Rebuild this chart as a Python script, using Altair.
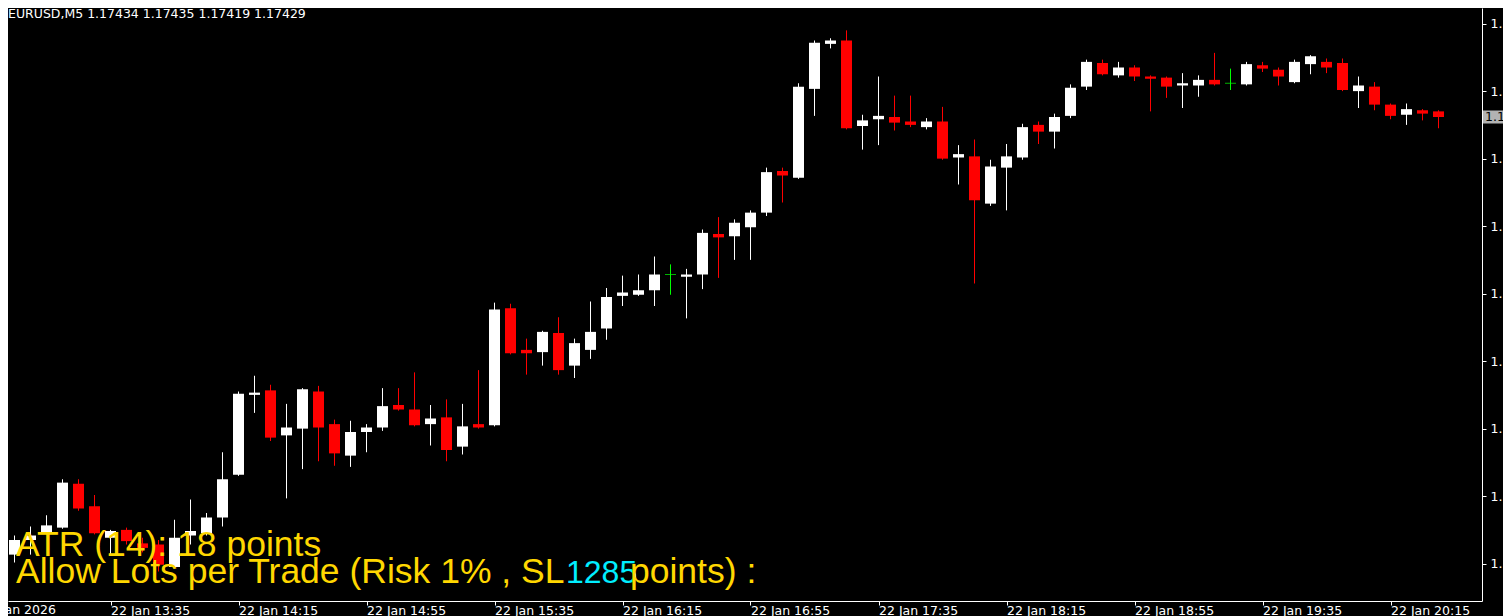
import altair as alt
import pandas as pd
import numpy as np

# ---- data (EURUSD, M5 candles, index 0 = 22 Jan 13:05) ----
candle_index = list(range(-1, 90))
open_prices = [1.17042, 1.17040, 1.17053, 1.17060, 1.17064, 1.17103, 1.17083, 1.17055, 1.17062, 1.17050,
               1.17049, 1.17029, 1.17057, 1.17059, 1.17073, 1.17111, 1.17182, 1.17186, 1.17146, 1.17152,
               1.17185, 1.17156, 1.17128, 1.17149, 1.17153, 1.17173, 1.17169, 1.17156, 1.17162, 1.17136,
               1.17156, 1.17155, 1.17259, 1.17222, 1.17220, 1.17237, 1.17208, 1.17222, 1.17241, 1.17270,
               1.17271, 1.17275, 1.17289, 1.17287, 1.17289, 1.17325, 1.17323, 1.17331, 1.17344, 1.17381,
               1.17375, 1.17454, 1.17494, 1.17497, 1.17421, 1.17427, 1.17429, 1.17425, 1.17420, 1.17425,
               1.17393, 1.17394, 1.17352, 1.17384, 1.17393, 1.17422, 1.17416, 1.17430, 1.17456, 1.17477,
               1.17466, 1.17473, 1.17465, 1.17464, 1.17457, 1.17457, 1.17462, 1.17459, 1.17458, 1.17475,
               1.17471, 1.17460, 1.17476, 1.17478, 1.17477, 1.17452, 1.17456, 1.17440, 1.17431, 1.17435,
               1.17434]
high_prices = [1.17043, 1.17057, 1.17065, 1.17075, 1.17107, 1.17107, 1.17093, 1.17062, 1.17064, 1.17055,
               1.17053, 1.17071, 1.17089, 1.17077, 1.17131, 1.17185, 1.17199, 1.17191, 1.17174, 1.17188,
               1.17190, 1.17160, 1.17159, 1.17156, 1.17188, 1.17188, 1.17202, 1.17173, 1.17178, 1.17174,
               1.17204, 1.17264, 1.17263, 1.17232, 1.17239, 1.17251, 1.17232, 1.17265, 1.17277, 1.17288,
               1.17289, 1.17305, 1.17298, 1.17294, 1.17329, 1.17340, 1.17338, 1.17346, 1.17384, 1.17384,
               1.17459, 1.17497, 1.17499, 1.17506, 1.17431, 1.17465, 1.17448, 1.17448, 1.17428, 1.17438,
               1.17404, 1.17409, 1.17391, 1.17405, 1.17423, 1.17425, 1.17432, 1.17458, 1.17480, 1.17480,
               1.17478, 1.17475, 1.17466, 1.17465, 1.17468, 1.17466, 1.17486, 1.17472, 1.17478, 1.17478,
               1.17473, 1.17480, 1.17484, 1.17481, 1.17481, 1.17465, 1.17460, 1.17441, 1.17441, 1.17436,
               1.17435]
low_prices = [1.17037, 1.17033, 1.17040, 1.17059, 1.17063, 1.17079, 1.17058, 1.17040, 1.17049, 1.17042,
              1.17025, 1.17028, 1.17049, 1.17057, 1.17065, 1.17110, 1.17166, 1.17141, 1.17090, 1.17116,
              1.17123, 1.17119, 1.17118, 1.17131, 1.17150, 1.17168, 1.17154, 1.17137, 1.17123, 1.17129,
              1.17152, 1.17154, 1.17218, 1.17200, 1.17208, 1.17200, 1.17197, 1.17214, 1.17231, 1.17261,
              1.17270, 1.17261, 1.17271, 1.17250, 1.17276, 1.17286, 1.17302, 1.17302, 1.17341, 1.17353,
              1.17374, 1.17430, 1.17490, 1.17418, 1.17400, 1.17404, 1.17417, 1.17420, 1.17418, 1.17391,
              1.17369, 1.17281, 1.17350, 1.17346, 1.17391, 1.17405, 1.17401, 1.17428, 1.17453, 1.17466,
              1.17464, 1.17461, 1.17434, 1.17446, 1.17437, 1.17447, 1.17457, 1.17453, 1.17457, 1.17469,
              1.17457, 1.17459, 1.17467, 1.17468, 1.17452, 1.17437, 1.17435, 1.17427, 1.17422, 1.17426,
              1.17419]
close_prices = [1.17038, 1.17053, 1.17057, 1.17066, 1.17104, 1.17081, 1.17059, 1.17061, 1.17052, 1.17046,
                1.17031, 1.17055, 1.17061, 1.17073, 1.17107, 1.17183, 1.17184, 1.17144, 1.17153, 1.17187,
                1.17153, 1.17130, 1.17149, 1.17153, 1.17172, 1.17169, 1.17155, 1.17161, 1.17133, 1.17154,
                1.17153, 1.17258, 1.17219, 1.17219, 1.17238, 1.17204, 1.17228, 1.17238, 1.17269, 1.17273,
                1.17275, 1.17289, 1.17289, 1.17289, 1.17326, 1.17322, 1.17335, 1.17344, 1.17380, 1.17377,
                1.17456, 1.17495, 1.17497, 1.17419, 1.17426, 1.17430, 1.17424, 1.17422, 1.17425, 1.17392,
                1.17396, 1.17355, 1.17385, 1.17394, 1.17420, 1.17416, 1.17429, 1.17455, 1.17478, 1.17467,
                1.17473, 1.17465, 1.17463, 1.17456, 1.17459, 1.17462, 1.17458, 1.17459, 1.17476, 1.17472,
                1.17465, 1.17478, 1.17483, 1.17473, 1.17453, 1.17457, 1.17440, 1.17430, 1.17436, 1.17432,
                1.17429]

time_tick_index = [6, 14, 22, 30, 38, 46, 54, 62, 70, 78, 86]
time_tick_labels = ["22 Jan 13:35", "22 Jan 14:15", "22 Jan 14:55", "22 Jan 15:35", "22 Jan 16:15",
                    "22 Jan 16:55", "22 Jan 17:35", "22 Jan 18:15", "22 Jan 18:55", "22 Jan 19:35",
                    "22 Jan 20:15"]
price_ticks = [1.17512, 1.17452, 1.17392, 1.17332, 1.17272, 1.17212, 1.17152, 1.17092, 1.17032]

header_text = ["EURUSD,M5  1.17434 1.17435 1.17419 1.17429"]
first_date_label = ["22 Jan 2026"]
atr_text = ["ATR (14): 18 points"]
lots_text = ["Allow Lots per Trade (Risk 1% , SL"]
sl_value_text = ["1285"]
points_text = ["points) :"]

# ---- build table ----
df = pd.DataFrame({"i": candle_index, "open": open_prices, "high": high_prices,
                   "low": low_prices, "close": close_prices})
df["dir"] = np.where(df["close"] > df["open"], "up",
                     np.where(df["close"] < df["open"], "down", "doji"))

W, H = 1474, 593
FONT = "DejaVu Sans"

label_expr = "''"
for v, lab in reversed(list(zip(time_tick_index, time_tick_labels))):
    label_expr = f"datum.value == {v} ? '{lab}' : ({label_expr})"

xscale = alt.Scale(domain=[-0.40625, 91.71875], nice=False, zero=False, padding=0)
yscale = alt.Scale(domain=[1.1699878, 1.1752589], nice=False, zero=False, padding=0)

x_enc = alt.X("i:Q", scale=xscale, title=None,
              axis=alt.Axis(orient="bottom", values=time_tick_index, labelExpr=label_expr,
                            labelAlign="left", labelBaseline="top", labelPadding=-1,
                            labelOverlap=False, labelFlush=False, tickSize=4, grid=False,
                            domainColor="white", tickColor="white", labelColor="white",
                            labelFont=FONT, labelFontSize=12.5))
yaxis = alt.Axis(orient="right", values=price_ticks, format=".5f", labelAlign="left",
                 labelBaseline="middle", labelPadding=4, tickSize=4, grid=False,
                 domainColor="white", tickColor="white", labelColor="white",
                 labelFont=FONT, labelFontSize=12.5, labelOverlap=False, labelFlush=False,
                 labelLimit=400)

color_enc = alt.Color("dir:N", legend=None,
                      scale=alt.Scale(domain=["up", "down", "doji"],
                                      range=["#ffffff", "#ff0000", "#00ff00"]))

base = alt.Chart(df)
wicks = base.mark_rule(strokeWidth=1, clip=True).encode(
    x=x_enc, y=alt.Y("low:Q", scale=yscale, axis=yaxis, title=None), y2="high:Q", color=color_enc)
bodies = base.transform_filter("datum.dir != 'doji'").mark_bar(size=11, clip=True).encode(
    x=x_enc, y=alt.Y("open:Q", scale=yscale, axis=yaxis, title=None), y2="close:Q", color=color_enc)
dojis = base.transform_filter("datum.dir == 'doji'").mark_tick(
    orient="horizontal", size=11, thickness=1, clip=True).encode(
    x=x_enc, y=alt.Y("open:Q", scale=yscale, axis=yaxis, title=None), color=color_enc)

last = pd.DataFrame({"price": [close_prices[-1]], "label": [f"{close_prices[-1]:.5f}"]})
price_box = alt.Chart(last).mark_tick(orient="horizontal", size=36, thickness=13, color="white").encode(
    x=alt.value(W + 19), y=alt.Y("price:Q", scale=yscale))
price_lbl = alt.Chart(last).mark_text(align="left", baseline="middle", color="black",
                                      font=FONT, fontSize=12.5).encode(
    x=alt.value(W + 3), y=alt.Y("price:Q", scale=yscale), text="label:N")

def txt(lines, x, y, color, size, font, baseline="alphabetic"):
    return alt.Chart(pd.DataFrame({"t": lines})).mark_text(
        align="left", baseline=baseline, color=color, fontSize=size, font=font).encode(
        x=alt.value(x), y=alt.value(y), text="t:N")

header = txt(header_text, 0, 0, "white", 12.5, FONT, "top")
date0 = txt(first_date_label, -27, H + 3, "white", 12.5, FONT, "top")
atr = txt(atr_text, 8, 548, "#FFD700", 35.5, "Liberation Sans")
lots = txt(lots_text, 8, 575, "#FFD700", 35.5, "Liberation Sans")
slv = txt(sl_value_text, 558, 575, "#00EEFF", 32, "Liberation Sans")
pts = txt(points_text, 622, 575, "#FFD700", 35.5, "Liberation Sans")

chart = alt.layer(wicks, bodies, dojis, price_box, price_lbl, header, date0, atr, lots, slv, pts).properties(
    width=W, height=H, background="#000000",
    padding={"left": 0, "top": 0, "right": 21, "bottom": 15},
    autosize=alt.AutoSizeParams(type="none"),
).configure_view(stroke=None, fill="#000000")

chart.save("out.html", embed_options={"renderer": "svg", "actions": False})
